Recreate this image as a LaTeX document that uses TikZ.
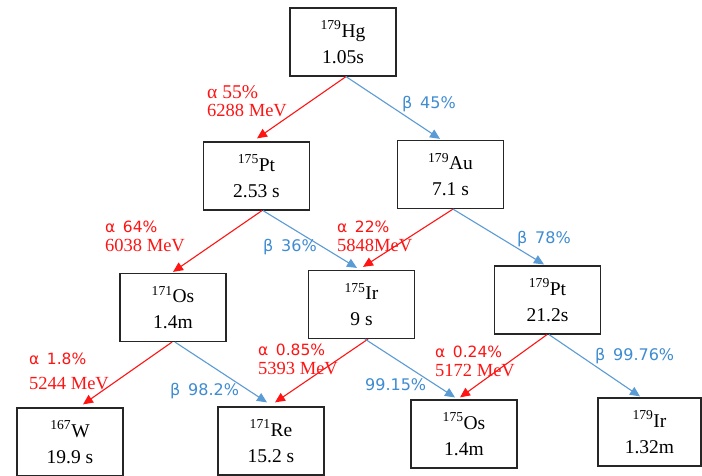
\documentclass[tikz,border=0pt]{standalone}
\usepackage{fontspec}
\setmainfont{Liberation Serif}
\setsansfont{DejaVu Sans}
\usetikzlibrary{arrows.meta}
\definecolor{alphared}{RGB}{255,20,20}
\definecolor{betablue}{RGB}{91,155,213}
\definecolor{betatext}{RGB}{62,140,210}
\begin{document}
\begin{tikzpicture}[x=1pt,y=-1pt,
  nucbox/.style={draw=black!85, line width=1.2pt, minimum width=106pt, minimum height=68pt,
    inner sep=0pt, align=center, font=\fontsize{19.5}{26}\selectfont},
  adecay/.style={draw=alphared, line width=1.1pt, -{Triangle[length=10pt,width=9pt]}},
  bdecay/.style={draw=betablue, line width=1.1pt, -{Triangle[length=10pt,width=9pt]}},
  alab/.style={anchor=base west, inner sep=0pt, text=alphared, font=\sffamily\fontsize{15.5}{15.5}\selectfont},
  aslab/.style={anchor=base west, inner sep=0pt, text=alphared, font=\fontsize{19.5}{19.5}\selectfont},
  elab/.style={anchor=base west, inner sep=0pt, text=alphared, font=\fontsize{18.5}{18.5}\selectfont},
  blab/.style={anchor=base west, inner sep=0pt, text=betatext, font=\sffamily\fontsize{16}{16}\selectfont}
]
\useasboundingbox[fill=white] (0,0) rectangle (702,475);

% nuclide boxes
\node[nucbox] (hg)    at (343,42)    {\textsuperscript{179}Hg\\1.05s};
\node[nucbox] (pta)   at (256.5,176) {\textsuperscript{175}Pt\\2.53 s};
\node[nucbox] (au)    at (450.5,174.5) {\textsuperscript{179}Au\\7.1 s};
\node[nucbox] (osa)   at (173,307.5) {\textsuperscript{171}Os\\1.4m};
\node[nucbox] (ira)   at (361.5,304.5) {\textsuperscript{175}Ir\\9 s};
\node[nucbox] (ptb)   at (547.5,300) {\textsuperscript{179}Pt\\21.2s};
\node[nucbox] (w)     at (70,442)    {\textsuperscript{167}W\\19.9 s};
\node[nucbox] (re)    at (271,441)   {\textsuperscript{171}Re\\15.2 s};
\node[nucbox] (osb)   at (464,434)   {\textsuperscript{175}Os\\1.4m};
\node[nucbox, minimum width=103pt] (irb) at (649.5,432) {\textsuperscript{179}Ir\\1.32m};

% decays
\draw[adecay] ([xshift=3pt]hg.south) -- ([xshift=0.5pt,yshift=3pt]pta.north);
\draw[bdecay] ([xshift=3pt]hg.south) -- ([xshift=-10.5pt,yshift=1pt]au.north);
\draw[adecay] ([xshift=5.5pt]pta.south) -- ([yshift=1pt]osa.north);
\draw[bdecay] ([xshift=6.5pt]pta.south) -- ([xshift=-4.5pt,yshift=2pt]ira.north);
\draw[adecay] ([xshift=2.5pt]au.south) -- ([xshift=1.5pt,yshift=3pt]ira.north);
\draw[bdecay] ([xshift=2.5pt]au.south) -- ([xshift=-3.5pt,yshift=1pt]ptb.north);
\draw[adecay] ([xshift=-1pt]osa.south) -- ([xshift=13pt,yshift=3pt]w.north);
\draw[bdecay] ([xshift=2pt]osa.south) -- ([xshift=-4pt,yshift=4pt]re.north);
\draw[adecay] ([xshift=6.5pt]ira.south) -- ([xshift=4pt,yshift=4pt]re.north);
\draw[bdecay] ([xshift=3.5pt]ira.south) -- ([xshift=-9pt,yshift=2pt]osb.north);
\draw[adecay] ([xshift=-0.5pt]ptb.south) -- ([xshift=-4pt,yshift=2pt]osb.north);
\draw[bdecay] ([xshift=1.5pt]ptb.south) -- ([xshift=-9.5pt,yshift=1pt]irb.north);

% labels
\node[aslab] (l1a) at (207,98)  {α 55\%};
\node[elab]  (l1b) at (207,116) {6288 MeV};
\node[blab]  (l2)  at (402,108) {β\, 45\%};
\node[alab]  (l3a) at (105,232) {α\, 64\%};
\node[elab]  (l3b) at (105,251) {6038 MeV};
\node[blab]  (l4)  at (263,251) {β\, 36\%};
\node[alab]  (l5a) at (337,232) {α\, 22\%};
\node[elab]  (l5b) at (337,251) {5848MeV};
\node[blab]  (l6)  at (517,243) {β\, 78\%};
\node[alab]  (l7a) at (29,364)  {α\, 1.8\%};
\node[elab]  (l7b) at (29,389)  {5244 MeV};
\node[blab]  (l8)  at (170,395) {β\, 98.2\%};
\node[alab]  (l9a) at (258,355) {α\, 0.85\%};
\node[elab]  (l9b) at (258,374) {5393 MeV};
\node[blab]  (l10) at (365,390) {99.15\%};
\node[alab]  (l11a) at (435,357) {α\, 0.24\%};
\node[elab]  (l11b) at (435,376) {5172 MeV};
\node[blab]  (l12) at (595,360) {β\, 99.76\%};
\end{tikzpicture}
\end{document}
